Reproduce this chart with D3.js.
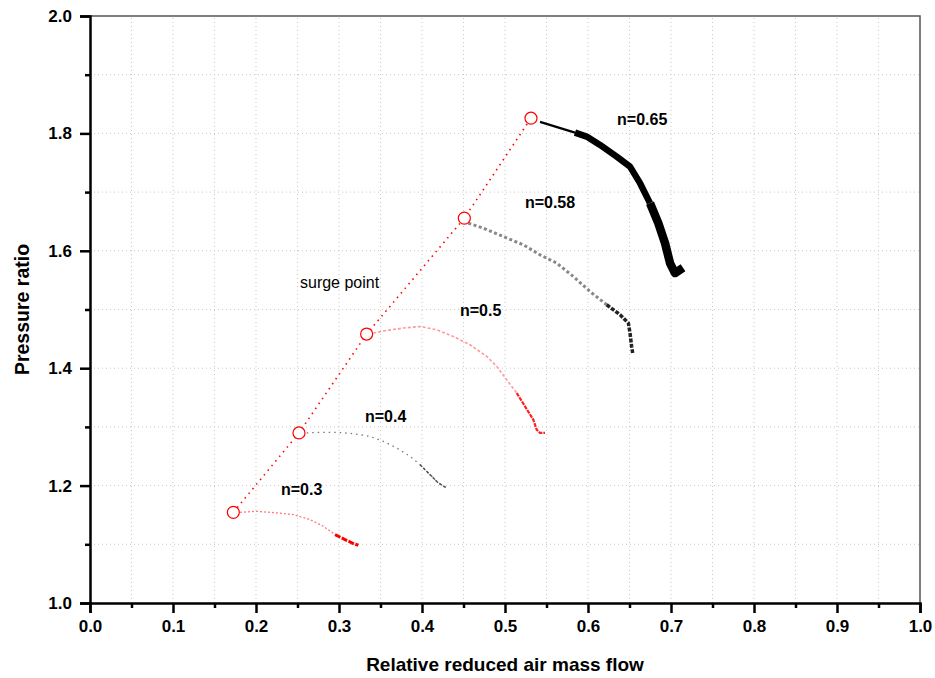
<!DOCTYPE html>
<html>
<head>
<meta charset="utf-8">
<script src="https://cdn.jsdelivr.net/npm/d3@7"></script>
<style>
  body { margin: 0; background: #fff; }
  svg { display: block; font-family: "Liberation Sans", Arial, sans-serif; }
</style>
</head>
<body>
<svg id="chart" width="935" height="678"></svg>
<script>
// surge points (red circles), one per speed line
const surgeX = [0.1727, 0.2518, 0.3333, 0.4510, 0.5313];
const surgeY = [1.1545, 1.2897, 1.4582, 1.6556, 1.8259];

// speed lines
const n03X = [0.1727, 0.1807, 0.2008, 0.2249, 0.2449, 0.2651, 0.2811, 0.2952, 0.3072, 0.3172, 0.3233];
const n03Y = [1.1545, 1.1545, 1.1562, 1.1535, 1.1506, 1.1421, 1.1307, 1.1166, 1.1081, 1.1013, 1.0984];

const n04X = [0.2518, 0.2611, 0.2771, 0.2972, 0.3172, 0.3373, 0.3533, 0.3695, 0.3855, 0.3976, 0.4096, 0.4196, 0.4298];
const n04Y = [1.2897, 1.2897, 1.2907, 1.2907, 1.2885, 1.2839, 1.2754, 1.2642, 1.2499, 1.2357, 1.2187, 1.2046, 1.1961];

const n05X = [0.3333, 0.3413, 0.3575, 0.3775, 0.3976, 0.4177, 0.4377, 0.4578, 0.4780, 0.4900, 0.5020, 0.5141, 0.5241, 0.5341, 0.5382, 0.5422, 0.5482];
const n05Y = [1.4582, 1.4599, 1.4643, 1.4684, 1.4711, 1.4655, 1.4541, 1.4400, 1.4201, 1.4031, 1.3804, 1.3578, 1.3350, 1.3123, 1.2953, 1.2897, 1.2897];

const n058X = [0.4510, 0.4558, 0.4739, 0.4980, 0.5220, 0.5422, 0.5622, 0.5823, 0.6024, 0.6225, 0.6386, 0.6486, 0.6506, 0.6526, 0.6538];
const n058Y = [1.6556, 1.6471, 1.6386, 1.6243, 1.6102, 1.5932, 1.5791, 1.5563, 1.5307, 1.5081, 1.4911, 1.4769, 1.4599, 1.4371, 1.4259];

const n065X = [0.5313, 0.5422, 0.5843, 0.5984, 0.6145, 0.6346, 0.6506, 0.6627, 0.6747, 0.6847, 0.6928, 0.6988, 0.7048, 0.7145];
const n065Y = [1.8259, 1.8196, 1.8014, 1.7946, 1.7804, 1.7605, 1.7435, 1.7152, 1.6812, 1.6471, 1.6131, 1.5791, 1.5620, 1.5711];

const speedLabels = ['n=0.3', 'n=0.4', 'n=0.5', 'n=0.58', 'n=0.65'];
const labelX = [0.2301, 0.3313, 0.4458, 0.5240, 0.6350];
const labelY = [1.1847, 1.3090, 1.4894, 1.6730, 1.8145];

const xTicks = [0, 0.1, 0.2, 0.3, 0.4, 0.5, 0.6, 0.7, 0.8, 0.9, 1.0];
const yTicks = [1.0, 1.2, 1.4, 1.6, 1.8, 2.0];

const width = 935, height = 678;
const margin = {top: 16, right: 15, bottom: 75, left: 90};

const svg = d3.select('#chart');
const x = d3.scaleLinear([0, 1], [margin.left, width - margin.right]);
const y = d3.scaleLinear([1, 2], [height - margin.bottom, margin.top]);

const zip = (xs, ys) => xs.map((d, i) => [d, ys[i]]);
const line = d3.line().x(d => x(d[0])).y(d => y(d[1]));

// dotted grid at minor steps
const grid = svg.append('g').attr('class', 'grid')
  .attr('stroke', '#c8c8c8').attr('stroke-width', 1).attr('stroke-dasharray', '1,3');
grid.selectAll('.gx')
  .data(d3.range(1, 20).map(i => i * 0.05))
  .join('line')
    .attr('x1', d => x(d)).attr('x2', d => x(d))
    .attr('y1', y(1)).attr('y2', y(2));
grid.selectAll('.gy')
  .data(d3.range(1, 10).map(i => 1 + i * 0.1))
  .join('line')
    .attr('x1', x(0)).attr('x2', x(1))
    .attr('y1', d => y(d)).attr('y2', d => y(d));

// top & right frame
svg.append('path')
  .attr('d', `M${x(0)},${y(2)}H${x(1)}V${y(1)}`)
  .attr('fill', 'none').attr('stroke', '#555').attr('stroke-width', 1.5);

// axes
const xAxis = svg.append('g')
  .attr('transform', `translate(0,${y(1)})`)
  .call(d3.axisBottom(x).tickValues(xTicks).tickFormat(d3.format('.1f')).tickSizeOuter(0).tickSize(10).tickPadding(7));
const xMinor = svg.append('g')
  .attr('transform', `translate(0,${y(1)})`)
  .call(d3.axisBottom(x).tickValues(d3.range(0, 10).map(i => i * 0.1 + 0.05)).tickFormat('').tickSizeOuter(0).tickSize(5));
const yAxis = svg.append('g')
  .attr('transform', `translate(${x(0)},0)`)
  .call(d3.axisLeft(y).tickValues(yTicks).tickFormat(d3.format('.1f')).tickSizeOuter(0).tickSize(10).tickPadding(8));
const yMinor = svg.append('g')
  .attr('transform', `translate(${x(0)},0)`)
  .call(d3.axisLeft(y).tickValues(d3.range(0, 5).map(i => 1.1 + i * 0.2)).tickFormat('').tickSizeOuter(0).tickSize(5));

[xAxis, xMinor, yAxis, yMinor].forEach(g => {
  g.select('.domain').attr('stroke', '#000').attr('stroke-width', 2.5);
  g.selectAll('.tick line').attr('stroke', '#000').attr('stroke-width', 2.5);
  g.selectAll('.tick text')
    .attr('fill', '#000')
    .attr('font-size', 17)
    .attr('font-weight', 700)
    .attr('font-family', '"Liberation Sans", Arial, sans-serif');
});
yMinor.select('.domain').remove();
xMinor.select('.domain').remove();

// axis names
svg.append('text')
  .attr('x', (x(0) + x(1)) / 2).attr('y', 671)
  .attr('text-anchor', 'middle')
  .attr('font-size', 19).attr('font-weight', 700)
  .text('Relative reduced air mass flow');
svg.append('text')
  .attr('transform', `translate(29,${(y(1) + y(2)) / 2}) rotate(-90)`)
  .attr('text-anchor', 'middle')
  .attr('font-size', 19.5).attr('font-weight', 700)
  .text('Pressure ratio');

const curves = svg.append('g').attr('class', 'curves').attr('fill', 'none')
  .attr('stroke-linecap', 'butt').attr('stroke-linejoin', 'round');

// n=0.3 : faint red dotted, heavy red tail
const n03 = zip(n03X, n03Y);
curves.append('path').attr('d', line(n03.slice(1, 8)))
  .attr('stroke', '#ff7777').attr('stroke-width', 1.3).attr('stroke-dasharray', '2,2');
curves.append('path').attr('d', line(n03.slice(7)))
  .attr('stroke', '#ff0000').attr('stroke-width', 3).attr('stroke-dasharray', '6,1.5');

// n=0.4 : gray dotted
const n04 = zip(n04X, n04Y);
curves.append('path').attr('d', line(n04.slice(1)))
  .attr('stroke', '#777').attr('stroke-width', 1.3).attr('stroke-dasharray', '1.5,4');
curves.append('path').attr('d', line(n04.slice(9)))
  .attr('stroke', '#555').attr('stroke-width', 1.5).attr('stroke-dasharray', '3,1.5');

// n=0.5 : light red scatter, red tail
const n05 = zip(n05X, n05Y);
curves.append('path').attr('d', line(n05.slice(1, 12)))
  .attr('stroke', '#ff9a9a').attr('stroke-width', 1.6).attr('stroke-dasharray', '3,2');
curves.append('path').attr('d', line(n05.slice(11)))
  .attr('stroke', '#ff2020').attr('stroke-width', 2.2).attr('stroke-dasharray', '4,1');

// n=0.58 : gray/black dashed band, dark heavy tail
const n058 = zip(n058X, n058Y);
curves.append('path').attr('d', line(n058.slice(1, 10)))
  .attr('stroke', '#888').attr('stroke-width', 3).attr('stroke-dasharray', '3,2.5');
curves.append('path').attr('d', line(n058.slice(9)))
  .attr('stroke', '#222').attr('stroke-width', 3.5).attr('stroke-dasharray', '4,1.5');

// n=0.65 : thick noisy black
const n065 = zip(n065X, n065Y);
curves.append('path').attr('d', line(n065.slice(1, 3)))
  .attr('stroke', '#000').attr('stroke-width', 2.2);
curves.append('path').attr('d', line(n065.slice(2, 9)))
  .attr('stroke', '#000').attr('stroke-width', 6.5);
curves.append('path').attr('d', line(n065.slice(8)))
  .attr('stroke', '#000').attr('stroke-width', 8.5);

// surge line
const surge = zip(surgeX, surgeY);
svg.append('path')
  .attr('d', line(surge))
  .attr('fill', 'none').attr('stroke', '#ff0000')
  .attr('stroke-width', 1.6).attr('stroke-dasharray', '1.5,4.5');
svg.append('g').selectAll('circle')
  .data(surge)
  .join('circle')
    .attr('cx', d => x(d[0])).attr('cy', d => y(d[1]))
    .attr('r', 6)
    .attr('fill', '#fff').attr('stroke', '#ff0000').attr('stroke-width', 1.2);

// labels
svg.append('g').selectAll('text')
  .data(speedLabels)
  .join('text')
    .attr('x', (d, i) => x(labelX[i])).attr('y', (d, i) => y(labelY[i]))
    .attr('font-size', 16).attr('font-weight', 700)
    .text(d => d);
svg.append('text')
  .attr('x', x(0.253)).attr('y', y(1.537))
  .attr('font-size', 16)
  .text('surge point');
</script>
</body>
</html>
